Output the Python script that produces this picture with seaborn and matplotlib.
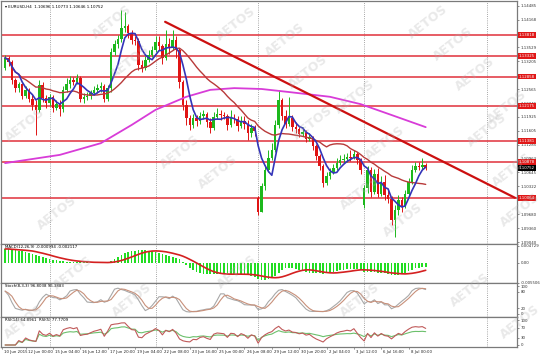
import numpy as np
import pandas as pd
import matplotlib
matplotlib.use("Agg")
import matplotlib.pyplot as plt
import matplotlib.transforms as mtrans
import seaborn as sns

# ---------------- data (EURUSD H4) ----------------
opens = [1.1305, 1.1329, 1.1319, 1.1278, 1.1259, 1.1269, 1.1241, 1.1255, 1.1234, 1.1220,
         1.1209, 1.1266, 1.1236, 1.1225, 1.1239, 1.1213, 1.1222, 1.1211, 1.1255, 1.1269,
         1.1278, 1.1273, 1.1282, 1.1234, 1.1239, 1.1241, 1.1248, 1.1255, 1.1259, 1.1264,
         1.1234, 1.1259, 1.1342, 1.1361, 1.1372, 1.1398, 1.1402, 1.1386, 1.1370, 1.1368,
         1.1312, 1.1305, 1.1324, 1.1335, 1.1347, 1.1365, 1.1356, 1.1329, 1.1361, 1.1352,
         1.1370, 1.1347, 1.1273, 1.1220, 1.1190, 1.1174, 1.1190, 1.1183, 1.1195, 1.1199,
         1.1181, 1.1167, 1.1192, 1.1199, 1.1197, 1.1195, 1.1174, 1.1190, 1.1188, 1.1172,
         1.1183, 1.1176, 1.1155, 1.1167, 1.1006, 1.0973, 1.1033, 1.1070, 1.1098, 1.1116,
         1.1174, 1.1232, 1.1195, 1.1176, 1.1190, 1.1169, 1.1165, 1.1153, 1.1158, 1.1142,
         1.1146, 1.1125, 1.1102, 1.1079, 1.1040, 1.1056, 1.1066, 1.1075, 1.1086, 1.1093,
         1.1096, 1.1100, 1.1098, 1.1107, 1.1093, 1.0989, 1.1029, 1.1070, 1.1019, 1.1061,
         1.1015, 1.1042, 1.1012, 1.1003, 1.0955, 1.0978, 1.1001, 1.0987, 1.1015, 1.1042,
         1.1070, 1.1079, 1.1077, 1.1082]
highs = [1.1335, 1.1333, 1.1324, 1.1282, 1.1273, 1.1271, 1.1264, 1.1259, 1.1245, 1.1232,
         1.1278, 1.1273, 1.1243, 1.1245, 1.1243, 1.1232, 1.1232, 1.1264, 1.1282, 1.1287,
         1.1285, 1.1292, 1.1287, 1.1248, 1.1250, 1.1255, 1.1264, 1.1269, 1.1273, 1.1269,
         1.1266, 1.1352, 1.1370, 1.1382, 1.1439, 1.1435, 1.1407, 1.1393, 1.1379, 1.1375,
         1.1324, 1.1333, 1.1347, 1.1356, 1.1379, 1.1379, 1.1361, 1.1393, 1.1375, 1.1393,
         1.1379, 1.1352, 1.1278, 1.1232, 1.1197, 1.1199, 1.1197, 1.1204, 1.1209, 1.1204,
         1.1190, 1.1204, 1.1213, 1.1209, 1.1204, 1.1199, 1.1209, 1.1199, 1.1195, 1.1195,
         1.1195, 1.1186, 1.1176, 1.1174, 1.1010, 1.1040, 1.1082, 1.1116, 1.1132, 1.1186,
         1.1255, 1.1236, 1.1209, 1.1239, 1.1197, 1.1181, 1.1172, 1.1169, 1.1162, 1.1155,
         1.1149, 1.1130, 1.1107, 1.1084, 1.1066, 1.1075, 1.1084, 1.1098, 1.1105, 1.1107,
         1.1109, 1.1116, 1.1116, 1.1112, 1.1098, 1.1036, 1.1079, 1.1077, 1.1072, 1.1075,
         1.1056, 1.1059, 1.1024, 1.1010, 1.0989, 1.1012, 1.1008, 1.1024, 1.1052, 1.1082,
         1.1089, 1.1089, 1.1098, 1.1086]
lows = [1.1301, 1.1310, 1.1269, 1.1250, 1.1250, 1.1234, 1.1236, 1.1227, 1.1209, 1.1151,
        1.1204, 1.1227, 1.1213, 1.1218, 1.1204, 1.1209, 1.1195, 1.1204, 1.1250, 1.1259,
        1.1266, 1.1269, 1.1227, 1.1225, 1.1232, 1.1234, 1.1243, 1.1248, 1.1250, 1.1227,
        1.1229, 1.1250, 1.1335, 1.1352, 1.1365, 1.1388, 1.1375, 1.1361, 1.1359, 1.1301,
        1.1296, 1.1301, 1.1319, 1.1331, 1.1342, 1.1347, 1.1315, 1.1324, 1.1338, 1.1347,
        1.1329, 1.1259, 1.1209, 1.1174, 1.1162, 1.1167, 1.1172, 1.1176, 1.1188, 1.1169,
        1.1155, 1.1162, 1.1188, 1.1186, 1.1188, 1.1162, 1.1169, 1.1179, 1.1160, 1.1167,
        1.1165, 1.1139, 1.1146, 1.1149, 1.0966, 1.0973, 1.1024, 1.1066, 1.1093, 1.1112,
        1.1167, 1.1186, 1.1167, 1.1172, 1.1160, 1.1155, 1.1146, 1.1149, 1.1135, 1.1137,
        1.1116, 1.1093, 1.1070, 1.1031, 1.1036, 1.1049, 1.1061, 1.1070, 1.1082, 1.1086,
        1.1089, 1.1091, 1.1096, 1.1084, 1.1061, 1.0982, 1.1017, 1.1008, 1.1015, 1.1008,
        1.1010, 1.1001, 1.0994, 1.0943, 1.0916, 1.0966, 1.0973, 1.0982, 1.1010, 1.1038,
        1.1066, 1.1070, 1.1072, 1.1070]
closes = [1.1329, 1.1319, 1.1278, 1.1259, 1.1269, 1.1241, 1.1255, 1.1234, 1.1220, 1.1209,
          1.1266, 1.1236, 1.1225, 1.1239, 1.1213, 1.1222, 1.1211, 1.1255, 1.1269, 1.1278,
          1.1273, 1.1282, 1.1234, 1.1239, 1.1241, 1.1248, 1.1255, 1.1259, 1.1264, 1.1234,
          1.1259, 1.1342, 1.1361, 1.1372, 1.1398, 1.1402, 1.1386, 1.1370, 1.1368, 1.1312,
          1.1305, 1.1324, 1.1335, 1.1347, 1.1365, 1.1356, 1.1329, 1.1361, 1.1352, 1.1370,
          1.1347, 1.1273, 1.1220, 1.1190, 1.1174, 1.1190, 1.1183, 1.1195, 1.1199, 1.1181,
          1.1167, 1.1192, 1.1199, 1.1197, 1.1195, 1.1174, 1.1190, 1.1188, 1.1172, 1.1183,
          1.1176, 1.1155, 1.1167, 1.1160, 1.0973, 1.1033, 1.1070, 1.1098, 1.1116, 1.1174,
          1.1232, 1.1195, 1.1176, 1.1190, 1.1169, 1.1165, 1.1153, 1.1158, 1.1142, 1.1146,
          1.1125, 1.1102, 1.1079, 1.1040, 1.1056, 1.1066, 1.1075, 1.1086, 1.1093, 1.1096,
          1.1100, 1.1098, 1.1107, 1.1093, 1.1070, 1.1029, 1.1070, 1.1019, 1.1061, 1.1015,
          1.1042, 1.1012, 1.1003, 1.0955, 1.0978, 1.1001, 1.0987, 1.1015, 1.1042, 1.1070,
          1.1079, 1.1077, 1.1082, 1.1075]

# long moving average (magenta), sampled at bars
ma_long_bars = [0, 16, 28, 37, 44, 53, 60, 67, 75, 83, 95, 104, 113, 123]
ma_long_vals = [1.1086, 1.1105, 1.1132, 1.1174, 1.1209, 1.1239, 1.1255, 1.1259,
                1.1257, 1.1250, 1.1239, 1.1222, 1.1197, 1.1169]

# MACD main values (histogram)
macd_hist = [0.0039, 0.0039, 0.0036, 0.0036, 0.0033, 0.0033, 0.0031, 0.0028, 0.0025, 0.0022,
             0.0019, 0.0017, 0.0014, 0.0011, 0.0008, 0.0008, 0.0006, 0.0006, 0.0003, 0.0003,
             0.0003, 0.0003, 0.00014, 0.00014, 0.00014, 0.00008, 0.00008, 0.00014, 0.00014, 0.00014,
             0.00014, 0.0006, 0.0011, 0.0017, 0.0022, 0.0028, 0.0031, 0.0033, 0.0033, 0.0036,
             0.0036, 0.0036, 0.0033, 0.0033, 0.0031, 0.0028, 0.0025, 0.0022, 0.0019, 0.0017,
             0.0014, 0.0011, 0.0003, -0.0006, -0.0014, -0.0019, -0.0025, -0.0028, -0.0031, -0.0031,
             -0.0031, -0.0031, -0.0031, -0.0031, -0.0031, -0.0031, -0.0031, -0.0031, -0.0031, -0.0031,
             -0.0033, -0.0033, -0.0036, -0.0039, -0.0044, -0.0047, -0.0047, -0.0044, -0.0042, -0.0036,
             -0.0028, -0.0019, -0.0014, -0.0014, -0.0014, -0.0017, -0.0019, -0.0022, -0.0025, -0.0028,
             -0.0028, -0.0028, -0.0028, -0.0031, -0.0028, -0.0028, -0.0025, -0.0022, -0.0019, -0.0019,
             -0.0017, -0.0017, -0.0017, -0.0017, -0.0019, -0.0025, -0.0025, -0.0025, -0.0025, -0.0028,
             -0.0028, -0.0028, -0.0031, -0.0033, -0.0033, -0.0033, -0.0031, -0.0028, -0.0022, -0.0019,
             -0.0014, -0.0014, -0.0011, -0.0010]

# horizontal levels and trend line
levels = [1.13818, 1.13325, 1.12858, 1.12175, 1.11381, 1.10878, 1.10064]
trend_bars = [46.8, 149.1]
trend_prices = [1.1412, 1.1006]
last_price = 1.10752
price_ticks = [1.14485, 1.14168, 1.13529, 1.13205, 1.12565, 1.12246, 1.11925, 1.11605,
               1.11285, 1.10963, 1.10645, 1.10322, 1.09680, 1.09360, 1.09040]
separator_bars = [13, 44, 74, 105, 141]
date_labels = ["10 Jun 2015", "12 Jun 00:00", "15 Jun 04:00", "16 Jun 12:00", "17 Jun 20:00",
               "19 Jun 04:00", "22 Jun 08:00", "23 Jun 16:00", "25 Jun 00:00", "26 Jun 08:00",
               "29 Jun 12:00", "30 Jun 20:00", "2 Jul 04:00", "3 Jul 12:00", "6 Jul 16:00",
               "8 Jul 00:00"]
date_label_bars = [-1, 6, 14, 22, 30, 38, 46, 54, 62, 70, 78, 86, 94, 102, 110, 118]
header = "EURUSD,H4  1.10696 1.10773 1.10646 1.10752"
macd_title = "MACD(12,26,9) -0.000994 -0.002117"
stoch_title = "Stoch(8,3,3) 96.8038 96.3883"
rsi_title = "RSI(14) 64.8961  RSI(5) 77.7709"
watermark = "AETOS"
watermark_px = [(112, 22), (236, 24), (285, 40), (308, 72), (355, 97), (428, 22), (453, 44),
                (475, 74), (507, 107), (487, 130), (512, 170), (520, 210), (385, 143),
                (403, 220), (25, 125), (57, 213), (180, 152), (218, 172), (313, 123),
                (360, 193), (73, 273), (237, 272), (132, 300), (470, 290), (360, 300),
                (520, 322), (24, 322), (130, 62)]

# ---------------- indicators ----------------
sns.set_theme(style="white")
plt.rcParams['font.family'] = ['DejaVu Sans']

n = len(closes)
df = pd.DataFrame({'bar': np.arange(n), 'open': opens, 'high': highs,
                   'low': lows, 'close': closes})
df['ma_fast'] = df['close'].rolling(5, min_periods=1).mean()
df['ma_slow'] = df['close'].rolling(21, min_periods=1).mean()
df['macd'] = macd_hist
df['signal'] = df['macd'].rolling(9, min_periods=1).mean()

ll = df['low'].rolling(8, min_periods=1).min()
hh = df['high'].rolling(8, min_periods=1).max()
num = (df['close'] - ll).rolling(3, min_periods=1).sum()
den = (hh - ll).rolling(3, min_periods=1).sum()
df['stk'] = 100 * num / den
df['std'] = df['stk'].rolling(3, min_periods=1).mean()

def rsi(s, p):
    d = s.diff().fillna(0)
    g = d.clip(lower=0).ewm(alpha=1 / p, adjust=False).mean()
    l = (-d.clip(upper=0)).ewm(alpha=1 / p, adjust=False).mean()
    return 100 - 100 / (1 + g / l.replace(0, 1e-9))

df['rsi_long'] = rsi(df['close'], 14)
df['rsi_short'] = rsi(df['close'], 5)
ma_long = pd.DataFrame({'bar': ma_long_bars, 'val': ma_long_vals})

# ---------------- figure ----------------
W, H = 560, 357
fig = plt.figure(figsize=(W / 100, H / 100), dpi=100)
fig.patch.set_facecolor('white')

def px_axes(top, bottom):
    return fig.add_axes([1 / W, 1 - bottom / H, 516 / W, (bottom - top) / H])

ax = px_axes(1, 244)
ax_macd = px_axes(244, 283)
ax_st = px_axes(283, 317)
ax_rsi = px_axes(317, 347)

XL = (-1.2, 149.7)
for a in (ax, ax_macd, ax_st, ax_rsi):
    a.set_facecolor('white')
    a.set_xlim(*XL)
    a.set_xticks([])
    for sp in a.spines.values():
        sp.set_color('#7a7a7a')
        sp.set_linewidth(0.9)
    for b in separator_bars:
        a.axvline(b, color='#8a8a8a', lw=0.6, ls=(0, (1, 1.6)), zorder=0.5)
    a.yaxis.tick_right()
    a.tick_params(axis='y', labelsize=2.8, length=1.5, width=0.4, pad=1,
                  colors='#333333', right=True, left=False)

# --- main price panel ---
ax.set_ylim(1.08994, 1.14600)
ax.set_yticks(price_ticks)
ax.set_yticklabels([f"{v:.5f}" for v in price_ticks])

for lv in levels:
    ax.axhline(lv, color='#e0303a', lw=1.1, zorder=1)

up = df['close'] >= df['open']
col = np.where(up, '#1db81d', '#e01414')
ax.vlines(df['bar'], df['low'], df['high'], colors=col, lw=0.7, zorder=2)
body_h = (df['close'] - df['open']).abs().clip(lower=0.00004)
ax.bar(df['bar'], body_h, bottom=np.minimum(df['open'], df['close']),
       width=0.72, color=col, edgecolor=col, linewidth=0, zorder=3)

sns.lineplot(data=ma_long, x='bar', y='val', ax=ax, color='#d83cd8', lw=1.3,
             legend=False, zorder=4)
sns.lineplot(data=df, x='bar', y='ma_slow', ax=ax, color='#b83a3a', lw=1.0,
             legend=False, zorder=4)
sns.lineplot(data=df, x='bar', y='ma_fast', ax=ax, color='#3434b8', lw=1.2,
             legend=False, zorder=5)
ax.plot(trend_bars, trend_prices, color='#cc1010', lw=1.6, zorder=6, solid_capstyle='round')
ax.set_xlabel('')
ax.set_ylabel('')

trans_r = mtrans.blended_transform_factory(ax.transAxes, ax.transData)
for lv in levels:
    ax.text(1.003, lv, f"{lv:.5f}", transform=trans_r, fontsize=2.8, color='white',
            va='center', ha='left', zorder=10, clip_on=False,
            bbox=dict(boxstyle='square,pad=0.25', fc='#e01818', ec='none'))
ax.text(1.003, last_price, f"{last_price:.5f}", transform=trans_r, fontsize=2.8,
        color='white', va='center', ha='left', zorder=11, clip_on=False,
        bbox=dict(boxstyle='square,pad=0.25', fc='black', ec='none'))
ax.text(0.008, 0.985, "\u25be " + header, transform=ax.transAxes, fontsize=2.9,
        color='black', va='top', ha='left')

# --- MACD panel ---
ax_macd.set_ylim(-0.00556, 0.00528)
ax_macd.bar(df['bar'], df['macd'], width=0.5, color='#22dd22', linewidth=0, zorder=2)
sns.lineplot(data=df, x='bar', y='signal', ax=ax_macd, color='#d42020', lw=1.2,
             legend=False, zorder=3)
ax_macd.set_yticks([0.004729, 0.0, -0.005506])
ax_macd.set_yticklabels(["0.004729", "0.00", "-0.005506"])
ax_macd.text(0.008, 0.97, macd_title, transform=ax_macd.transAxes, fontsize=2.8,
             va='top', ha='left', color='black')

# --- Stochastic panel ---
ax_st.set_ylim(-12, 112)
sns.lineplot(data=df, x='bar', y='stk', ax=ax_st, color='#a8a8a8', lw=0.8,
             legend=False, zorder=3)
sns.lineplot(data=df, x='bar', y='std', ax=ax_st, color='#c8907a', lw=0.8,
             legend=False, zorder=3)
ax_st.set_yticks([100, 80, 20, 0])
ax_st.set_yticklabels(["100", "80", "20", "0"])
ax_st.text(0.008, 0.96, stoch_title, transform=ax_st.transAxes, fontsize=2.8,
           va='top', ha='left', color='black')

# --- RSI panel ---
ax_rsi.set_ylim(-8, 112)
sns.lineplot(data=df, x='bar', y='rsi_long', ax=ax_rsi, color='#6cc06c', lw=0.8,
             legend=False, zorder=3)
sns.lineplot(data=df, x='bar', y='rsi_short', ax=ax_rsi, color='#c05a5a', lw=0.8,
             legend=False, zorder=4)
ax_rsi.set_yticks([100, 70, 30, 0])
ax_rsi.set_yticklabels(["100", "70", "30", "0"])
ax_rsi.text(0.008, 0.96, rsi_title, transform=ax_rsi.transAxes, fontsize=2.8,
            va='top', ha='left', color='black')

for a in (ax_macd, ax_st, ax_rsi):
    a.set_xlabel('')
    a.set_ylabel('')

trans_b = mtrans.blended_transform_factory(ax_rsi.transData, ax_rsi.transAxes)
for b, lab in zip(date_label_bars, date_labels):
    ax_rsi.text(b + 0.6, -0.1, lab, transform=trans_b, fontsize=2.8, color='#222222',
                va='top', ha='left', clip_on=False)
    ax_rsi.plot([b, b], [-0.06, 0], transform=trans_b, color='#555555', lw=0.4,
                clip_on=False)

# watermark
for (px, py) in watermark_px:
    fig.text(px / W, 1 - py / H, watermark, fontsize=9, fontweight='bold',
             color='#b0b0b0', alpha=0.28, rotation=38, ha='center', va='center',
             zorder=20)

fig.savefig("out.png", dpi=100, facecolor='white')
